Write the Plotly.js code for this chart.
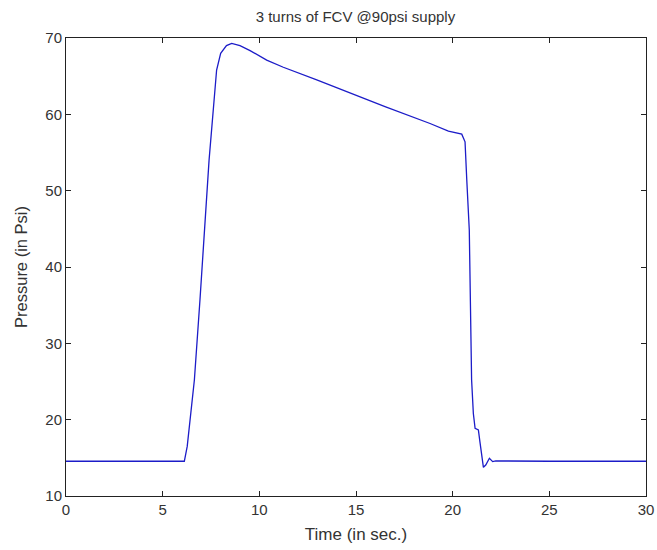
<!DOCTYPE html>
<html>
<head>
<meta charset="utf-8">
<script src="https://cdn.plot.ly/plotly-3.0.1.min.js"></script>
<style>body{margin:0;padding:0;background:#fff;}#chart{width:657px;height:550px;}</style>
</head>
<body>
<div id="chart"></div>
<script>
const timeSec = [0, 2, 4, 6.0, 6.12, 6.27, 6.64, 6.93, 7.40, 7.79, 8.0, 8.3, 8.57, 9.0, 9.52, 10.38, 11.24, 12.97, 14.69, 16.5, 18.83, 19.78, 20.47, 20.64, 20.73, 20.86, 20.98, 21.07, 21.16, 21.33, 21.41, 21.59, 21.71, 21.9, 22.07, 22.23, 25, 30];
const pressurePsi = [14.55, 14.55, 14.55, 14.55, 14.55, 16.5, 25.2, 35.7, 54.0, 65.8, 68.0, 69.0, 69.3, 69.0, 68.35, 67.1, 66.17, 64.5, 62.75, 61.0, 58.8, 57.8, 57.4, 56.4, 51.4, 44.85, 25.2, 20.8, 18.87, 18.65, 17.1, 13.76, 14.06, 14.94, 14.5, 14.6, 14.55, 14.55];
const xTicks = [0, 5, 10, 15, 20, 25, 30];
const yTicks = [10, 20, 30, 40, 50, 60, 70];

const fontFam = 'Liberation Sans, Arial, sans-serif';
Plotly.newPlot('chart', [{
  x: timeSec, y: pressurePsi, type: 'scatter', mode: 'lines',
  line: {color: '#1c1cc8', width: 1.3}, hoverinfo: 'skip'
}], {
  width: 657, height: 550,
  margin: {l: 66, r: 11, t: 38, b: 54},
  paper_bgcolor: '#fff', plot_bgcolor: '#fff',
  showlegend: false,
  title: {text: '3 turns of FCV @90psi supply', font: {family: fontFam, size: 15, color: '#333'}, x: 0.541, xanchor: 'center', y: 0.969, yanchor: 'middle'},
  xaxis: {
    range: [0, 30], tickvals: xTicks, ticktext: xTicks.map(String),
    ticks: 'inside', ticklen: 5, tickcolor: '#222', tickwidth: 1,
    showline: true, linecolor: '#222', linewidth: 1, mirror: 'ticks',
    showgrid: false, zeroline: false,
    tickfont: {family: fontFam, size: 15, color: '#333'},
    title: {text: 'Time (in sec.)', font: {family: fontFam, size: 17, color: '#333'}, standoff: 11}
  },
  yaxis: {
    range: [10, 70], tickvals: yTicks, ticktext: yTicks.map(String),
    ticks: 'inside', ticklen: 5, tickcolor: '#222', tickwidth: 1,
    showline: true, linecolor: '#222', linewidth: 1, mirror: 'ticks',
    showgrid: false, zeroline: false,
    tickfont: {family: fontFam, size: 15, color: '#333'},
    title: {text: 'Pressure (in Psi)', font: {family: fontFam, size: 16.5, color: '#333'}, standoff: 13}
  }
}, {displayModeBar: false, staticPlot: true});
</script>
</body>
</html>
